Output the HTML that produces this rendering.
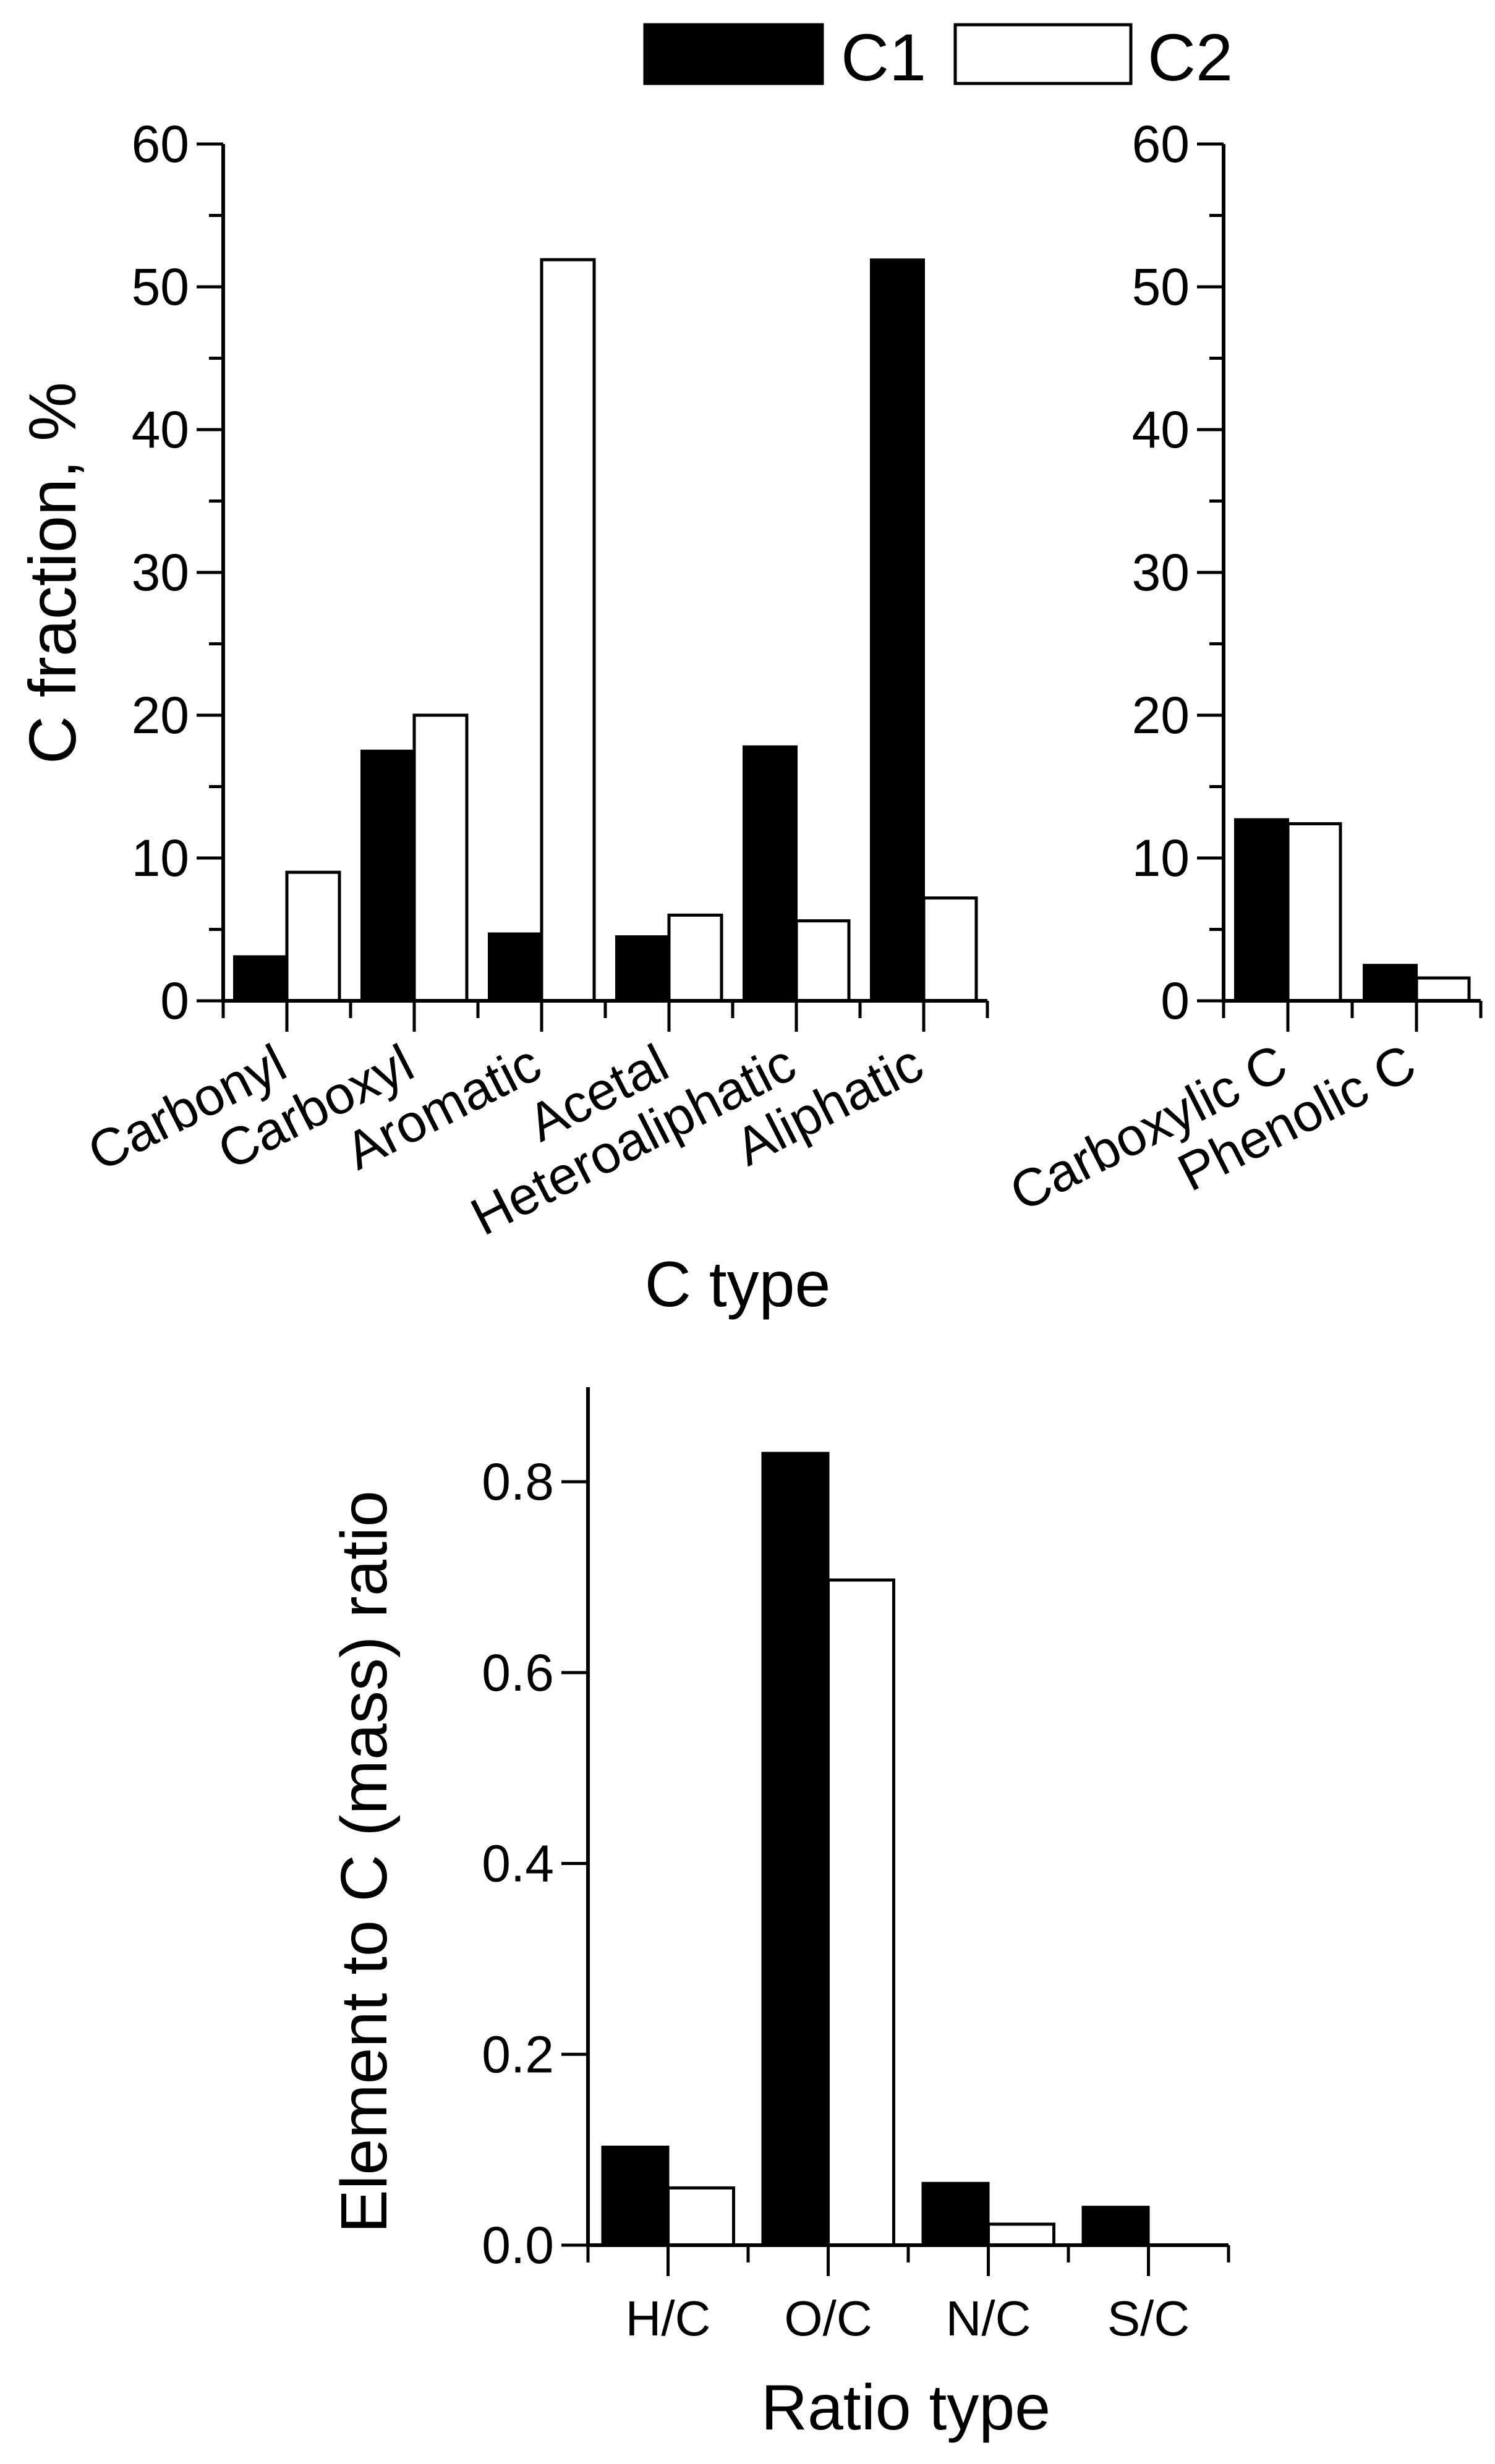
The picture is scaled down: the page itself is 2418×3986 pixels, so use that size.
<!DOCTYPE html>
<html><head><meta charset="utf-8"><style>
html,body{margin:0;padding:0;background:#fff;}
svg{display:block;font-family:"Liberation Sans",Arial,sans-serif;}
</style></head><body>
<svg id="fig" width="2418" height="3986" viewBox="0 0 2418 3986" xmlns="http://www.w3.org/2000/svg">
<g>
<rect x="1043" y="40" width="287" height="95" fill="#000" stroke="#000" stroke-width="5"/>
<text x="1360" y="130" font-size="108">C1</text>
<rect x="1545" y="40" width="284" height="95" fill="#fff" stroke="#000" stroke-width="5"/>
<text x="1856" y="130" font-size="108">C2</text>
</g>
<g id="g1"></g>
<g id="g2"></g>
<g id="g3"></g>
<text x="1193" y="2113" font-size="104" text-anchor="middle">C type</text>
<text transform="translate(122,927) rotate(-90)" font-size="108" text-anchor="middle">C fraction, %</text>
<text x="1465" y="3930" font-size="104" text-anchor="middle">Ratio type</text>
<text transform="translate(625,3012) rotate(-90)" font-size="106" text-anchor="middle">Element to C (mass) ratio</text>
</svg>
<script>
const ctypeCats = ["Carbonyl","Carboxyl","Aromatic","Acetal","Heteroaliphatic","Aliphatic"];
const ctypeC1 = [3.1,17.5,4.7,4.5,17.8,51.9];
const ctypeC2 = [9.0,20.0,51.9,6.0,5.6,7.2];
const acidCats = ["Carboxylic C","Phenolic C"];
const acidC1 = [12.7,2.5];
const acidC2 = [12.4,1.6];
const pctTicks = [0,10,20,30,40,50,60];
const ratioCats = ["H/C","O/C","N/C","S/C"];
const ratioC1 = [0.103,0.83,0.065,0.04];
const ratioC2 = [0.06,0.697,0.022,0.0];
const ratioTicks = [0,0.2,0.4,0.6,0.8];
const ratioTickLabels = ["0.0","0.2","0.4","0.6","0.8"];

const NS="http://www.w3.org/2000/svg";
function mk(parent,tag,attrs,text){const e=document.createElementNS(NS,tag);for(const k in attrs)e.setAttribute(k,attrs[k]);if(text!==undefined)e.textContent=text;parent.appendChild(e);return e;}

function chart(g,o){
  const y=v=>o.y0-(v-o.vmin)/(o.vmax-o.vmin)*(o.y0-o.yTop);
  const slot=(o.x1-o.x0)/o.cats.length;
  const cx=i=>o.x0+slot*(i+0.5);
  o.cats.forEach((c,i)=>{
    const b1=mk(g,"rect",{x:cx(i)-o.bw,y:y(o.c1[i]),width:o.bw,height:o.y0-y(o.c1[i]),fill:"#000",stroke:"#000","stroke-width":4});
    
    
    const b2=mk(g,"rect",{x:cx(i),y:y(o.c2[i]),width:o.bw,height:o.y0-y(o.c2[i]),fill:"#fff",stroke:"#000","stroke-width":5});
    
    
  });
  const ya=mk(g,"line",{x1:o.x0,y1:o.y0,x2:o.x0,y2:o.yAxisTop,stroke:"#000","stroke-width":6});
  
  
  const xa=mk(g,"line",{x1:o.x0-3,y1:o.y0,x2:o.x1,y2:o.y0,stroke:"#000","stroke-width":6});
  
  
  o.ticks.forEach((t,i)=>{
    const tk=mk(g,"line",{x1:o.x0-43,y1:y(t),x2:o.x0,y2:y(t),stroke:"#000","stroke-width":5});
    
    
    const tl=mk(g,"text",{x:o.x0-55,y:y(t)+29,"font-size":84,"text-anchor":"end"},o.tickLabels[i]);
    
    
    if(o.minor&&i<o.ticks.length-1){
      const m=(t+o.ticks[i+1])/2;
      const mt=mk(g,"line",{x1:o.x0-23,y1:y(m),x2:o.x0,y2:y(m),stroke:"#000","stroke-width":5});
      
      
    }
  });
  for(let i=0;i<=o.cats.length;i++){
    const xb=o.x0+slot*i;
    const mt=mk(g,"line",{x1:xb,y1:o.y0,x2:xb,y2:o.y0+28,stroke:"#000","stroke-width":5});
    
    
  }
  o.cats.forEach((c,i)=>{
    const t=mk(g,"line",{x1:cx(i),y1:o.y0,x2:cx(i),y2:o.y0+50,stroke:"#000","stroke-width":5});
    
    
    let l;
    if(o.rot){
      l=mk(g,"text",{transform:`translate(${cx(i)+5},1740) rotate(-27)`,"font-size":86,"text-anchor":"end"},c);
    } else {
      l=mk(g,"text",{x:cx(i),y:o.labelY,"font-size":80,"text-anchor":"middle"},c);
    }
    
    
  });
}
chart(document.getElementById("g1"),{cats:ctypeCats,c1:ctypeC1,c2:ctypeC2,x0:361,x1:1597,y0:1619,yTop:233,yAxisTop:233,vmin:0,vmax:60,bw:85,ticks:pctTicks,tickLabels:pctTicks.map(String),minor:true,rot:true});
chart(document.getElementById("g2"),{cats:acidCats,c1:acidC1,c2:acidC2,x0:1979,x1:2395,y0:1619,yTop:233,yAxisTop:233,vmin:0,vmax:60,bw:85,ticks:pctTicks,tickLabels:pctTicks.map(String),minor:true,rot:true});
chart(document.getElementById("g3"),{cats:ratioCats,c1:ratioC1,c2:ratioC2,x0:951,x1:1987,y0:3632,yTop:2397,yAxisTop:2244,vmin:0,vmax:0.8,bw:106,ticks:ratioTicks,tickLabels:ratioTickLabels,minor:false,rot:false,labelY:3778});
</script>
</body></html>
